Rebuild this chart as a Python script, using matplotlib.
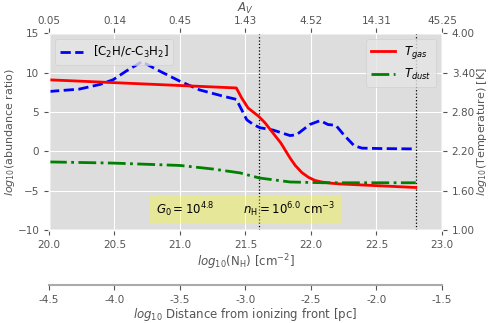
import matplotlib
matplotlib.use('Agg')
import matplotlib.pyplot as plt

plt.style.use('ggplot')

# log10(N_H) grid for the abundance ratio curve
nh_ratio = [20.0, 20.23, 20.39, 20.49, 20.59, 20.71, 20.82, 21.0, 21.15, 21.33,
            21.43, 21.47, 21.51, 21.56, 21.61, 21.71, 21.84, 21.89, 21.99, 22.07,
            22.13, 22.19, 22.25, 22.33, 22.39, 22.53, 22.8]
ratio = [7.6, 7.9, 8.5, 9.1, 10.2, 11.4, 10.4, 8.9, 7.8, 7.0,
         6.6, 5.3, 4.0, 3.4, 3.0, 2.7, 2.0, 2.1, 3.4, 3.9,
         3.4, 3.3, 2.1, 0.7, 0.4, 0.35, 0.3]

# gas temperature, log10 K
nh_gas = [20.0, 21.43, 21.47, 21.52, 21.60, 21.65, 21.69, 21.77, 21.84, 21.88,
          21.93, 21.98, 22.03, 22.08, 22.15, 22.22, 22.8]
t_gas = [3.29, 3.166, 3.016, 2.86, 2.734, 2.632, 2.53, 2.326, 2.098, 1.984,
         1.876, 1.804, 1.756, 1.732, 1.714, 1.702, 1.648]

# dust temperature, log10 K
nh_dust = [20.0, 20.49, 21.0, 21.25, 21.46, 21.56, 21.61, 21.84, 22.1, 22.8]
t_dust = [2.038, 2.02, 1.984, 1.93, 1.87, 1.816, 1.792, 1.732, 1.72, 1.72]

nh_ticks = [20.0, 20.5, 21.0, 21.5, 22.0, 22.5, 23.0]
av_labels = ['0.05', '0.14', '0.45', '1.43', '4.52', '14.31', '45.25']
dist_labels = ['-4.5', '-4.0', '-3.5', '-3.0', '-2.5', '-2.0', '-1.5']
t_ticks = [1.0, 1.6, 2.2, 2.8, 3.4, 4.0]
fronts = [21.6, 22.8]

fig = plt.figure(figsize=(4.9, 3.23), dpi=100)
ax = fig.add_axes([0.1, 0.288, 0.802, 0.609])
ax.set_facecolor('#dddddd')

ax.plot(nh_ratio, ratio, '--', color='blue', lw=2, label='[C$_2$H/$c$-C$_3$H$_2$]')
for f in fronts:
    ax.axvline(f, color='black', ls=':', lw=0.9)
ax.set_xlim(20, 23)
ax.set_ylim(-10, 15)
ax.set_xticks(nh_ticks)
ax.set_yticks([-10, -5, 0, 5, 10, 15])
ax.tick_params(labelsize=7.5)
ax.set_xlabel(r'$log_{10}$(N$_{\rm H}$) [cm$^{-2}$]', fontsize=8.5, labelpad=2)
ax.set_ylabel(r'$log_{10}$(abundance ratio)', fontsize=8, labelpad=0)
ax.legend(loc='upper left', fontsize=8.5)
ax.text(21.5, -7.4, r'$G_0 = 10^{4.8}$        $n_{\rm H} = 10^{6.0}$ cm$^{-3}$',
        ha='center', va='center', fontsize=8.5,
        bbox=dict(facecolor='yellow', alpha=0.3, edgecolor='none'))

axt = ax.twinx()
axt.plot(nh_gas, t_gas, '-', color='red', lw=2, label='$T_{gas}$')
axt.plot(nh_dust, t_dust, '-.', color='green', lw=2, label='$T_{dust}$')
axt.set_ylim(1, 4)
axt.set_yticks(t_ticks)
axt.set_yticklabels(['%.2f' % t for t in t_ticks])
axt.grid(False)
axt.tick_params(labelsize=7.5)
axt.set_ylabel(r'$log_{10}$(Temperature) [K]', fontsize=8, labelpad=0)
axt.legend(loc='upper right', fontsize=8.5)

axa = ax.twiny()
axa.set_xlim(20, 23)
axa.set_xticks(nh_ticks)
axa.set_xticklabels(av_labels)
axa.grid(False)
axa.tick_params(labelsize=7.5, pad=2)
axa.set_xlabel('$A_V$', fontsize=8.5, labelpad=3)

axd = ax.twiny()
axd.set_xlim(20, 23)
axd.set_xticks(nh_ticks)
axd.set_xticklabels(dist_labels)
axd.grid(False)
axd.xaxis.set_ticks_position('bottom')
axd.xaxis.set_label_position('bottom')
for s in ['top', 'left', 'right']:
    axd.spines[s].set_visible(False)
axd.spines['bottom'].set_visible(True)
axd.spines['bottom'].set_position(('outward', 39.6))
axd.spines['bottom'].set_color('#aaaaaa')
axd.spines['bottom'].set_linewidth(1.5)
axd.tick_params(labelsize=7.5)
axd.set_xlabel(r'$log_{10}$ Distance from ionizing front [pc]', fontsize=8.5, labelpad=1)

fig.savefig('out.png', dpi=100)
